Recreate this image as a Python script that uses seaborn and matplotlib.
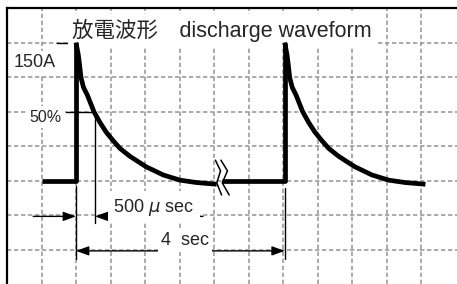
import matplotlib
matplotlib.use("Agg")
import matplotlib.pyplot as plt
import seaborn as sns
import pandas as pd

# ---- data (grid units) ----
pulse_x = [2.0, 8.05]          # position of each discharge edge
base_start = [1.0, 6.22]       # start of the flat baseline before each pulse
base_level = 3.0
peak_level = 7.0
# decay shape after each edge (offset from edge, level)
decay_dx = [0.000, 0.067, 0.100, 0.145, 0.217, 0.327, 0.522, 0.696, 0.870, 1.072,
            1.275, 1.565, 2.029, 2.530, 3.014, 3.498, 3.980, 4.078]
decay_y = [7.00, 6.64, 6.38, 5.98, 5.70, 5.48, 4.99, 4.68, 4.41, 4.16,
           3.93, 3.70, 3.40, 3.16, 3.01, 2.94, 2.90, 2.89]

title_text = "放電波形　discharge waveform"
label_peak = "150A"
label_half = "50%"
label_width = r"500 $\mu$ sec"
label_period = "4  sec"

# ---- build table: per pulse, an edge part and a decay part ----
rows = []
for i, (px, bs) in enumerate(zip(pulse_x, base_start)):
    rows.append(dict(seg=2 * i, x=bs, y=base_level))
    rows.append(dict(seg=2 * i, x=px, y=base_level))
    rows.append(dict(seg=2 * i, x=px, y=peak_level))
    for dx, yy in zip(decay_dx, decay_y):
        rows.append(dict(seg=2 * i + 1, x=px + dx, y=yy))
df = pd.DataFrame(rows)

sns.set_style("white")
plt.rcParams["font.family"] = ["Liberation Sans", "Noto Sans CJK JP", "DejaVu Sans"]
plt.rcParams["mathtext.fontset"] = "dejavusans"

W, H = 457, 284
unit = 34.5
fig = plt.figure(figsize=(W / 100, H / 100), dpi=100)
ax = fig.add_axes([7 / W, 0, (W - 7) / W, (H - 8) / H])

sns.lineplot(data=df, x="x", y="y", units="seg", estimator=None, sort=False,
             color="black", linewidth=3.4, legend=False, ax=ax, zorder=5)
for ln in ax.lines:
    ln.set_solid_joinstyle("round")
    ln.set_solid_capstyle("butt")

ax.set_xlim(0, (W - 7) / unit)
ax.set_ylim(0, (H - 8) / unit)
ax.set_xlabel("")
ax.set_ylabel("")
ax.set_xticks(range(1, 13))
ax.set_yticks(range(1, 8))
ax.tick_params(length=0, labelbottom=False, labelleft=False)
ax.set_axisbelow(True)
ax.grid(True, color="#9c9c9c", linewidth=1.2, linestyle=(0, (2.6, 1.6)))
for s in ["right", "bottom"]:
    ax.spines[s].set_visible(False)
for s in ["top", "left"]:
    ax.spines[s].set_color("black")
    ax.spines[s].set_linewidth(1.6)

thin = dict(color="black", linewidth=1.0, zorder=3)
# level markers
ax.plot([1.45, pulse_x[0]], [peak_level, peak_level], **thin)
ax.plot([1.72, 2.55], [5.0, 5.0], **thin)
ax.plot([2.55, 2.55], [5.0, 1.77], **thin)
# extension lines
ax.plot([pulse_x[0], pulse_x[0]], [2.83, 0.73], **thin)
ax.plot([pulse_x[1], pulse_x[1]], [2.78, 0.73], **thin)

# break mark
brk1_x = [6.04, 6.19, 6.08, 6.22]
brk2_x = [6.20, 6.39, 6.24, 6.44]
brk_y = [3.59, 3.28, 2.93, 2.58]
ax.plot(brk1_x, brk_y, color="black", linewidth=1.1, zorder=6)
ax.plot(brk2_x, brk_y, color="black", linewidth=1.1, zorder=6)

head = "-|>,head_length=0.55,head_width=0.2"
arrow_kw = dict(arrowstyle=head, color="black", lw=1.0, shrinkA=0, shrinkB=0,
                mutation_scale=14)
ax.annotate("", xy=(pulse_x[0], 1.96), xytext=(0.76, 1.96), arrowprops=arrow_kw, zorder=3)
ax.annotate("", xy=(2.55, 1.96), xytext=(5.68, 1.96), arrowprops=arrow_kw, zorder=2)
ax.annotate("", xy=(pulse_x[0], 0.96), xytext=(pulse_x[1], 0.96),
            arrowprops=dict(arrow_kw, arrowstyle="<|-|>,head_length=0.55,head_width=0.2"),
            zorder=3)

wbox = dict(facecolor="white", edgecolor="none", boxstyle="square,pad=0.2")
ax.text(1.88, 7.36, title_text, fontsize=15.5, ha="left", va="center",
        bbox=wbox, zorder=4)
ax.text(0.81, 6.41, label_peak, fontsize=13, ha="center", va="center",
        bbox=wbox, zorder=4)
ax.text(1.12, 4.84, label_half, fontsize=11.5, ha="center", va="center",
        bbox=wbox, zorder=4)
ax.text(4.26, 2.23, label_width, fontsize=13, ha="center", va="center",
        bbox=dict(wbox, boxstyle="square,pad=0.3"), zorder=4)
ax.text(5.16, 1.25, label_period, fontsize=13, ha="center", va="center",
        bbox=dict(wbox, boxstyle="square,pad=0.15"), zorder=4)

fig.savefig("out.png", dpi=100)
